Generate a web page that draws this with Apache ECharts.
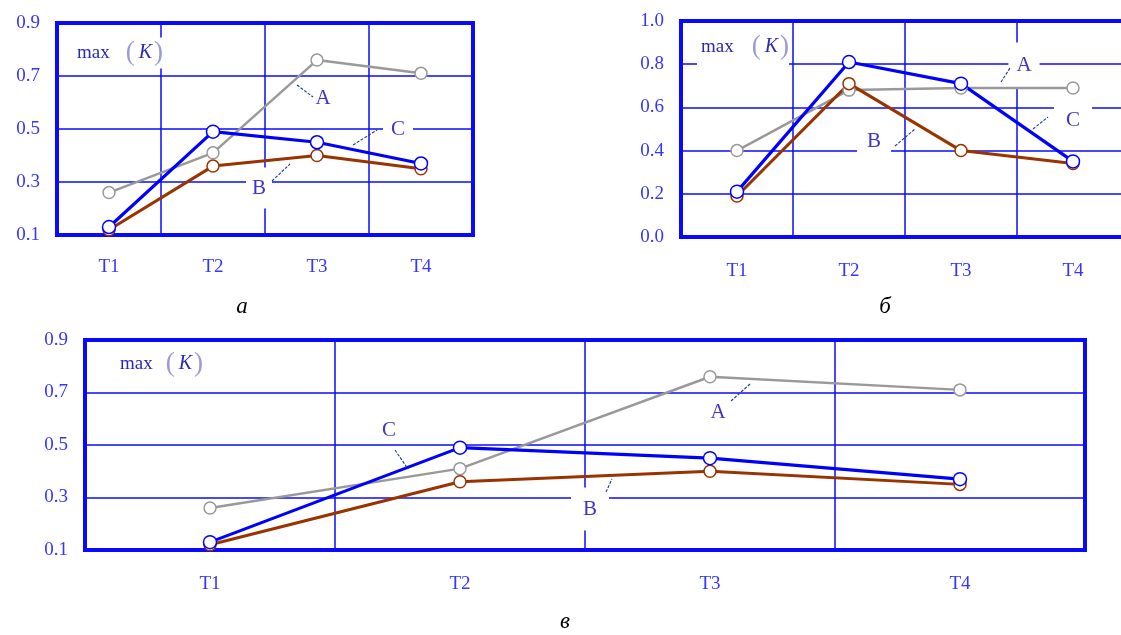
<!DOCTYPE html>
<html>
<head>
<meta charset="utf-8">
<script src="https://cdn.jsdelivr.net/npm/echarts@6/dist/echarts.min.js"></script>
<style>
html,body{margin:0;padding:0;background:#fff;}
#c{width:1121px;height:635px;}
</style>
</head>
<body>
<div id="c"></div>
<script>
// categories
const categories = ['T1', 'T2', 'T3', 'T4'];
// panel а (and в — same data)
const seriesA_a = [0.26, 0.41, 0.76, 0.71];
const seriesB_a = [0.12, 0.36, 0.40, 0.35];
const seriesC_a = [0.13, 0.49, 0.45, 0.37];
// panel б
const seriesA_b = [0.40, 0.68, 0.69, 0.69];
const seriesB_b = [0.19, 0.71, 0.40, 0.34];
const seriesC_b = [0.21, 0.81, 0.71, 0.35];
// y axis ranges
const yRangeAC = {min: 0.1, max: 0.9, interval: 0.2};
const yRangeB = {min: 0.0, max: 1.0, interval: 0.2};

const FONT = '"Liberation Serif", "Times New Roman", serif';
const TICK_COLOR = '#3535ff';
const GRID_BLUE = '#0a0aff';
const COL_A = '#999999';
const COL_B = '#993300';
const COL_C = '#0000ff';
const LBL_COLOR = '#4035c8';

function makeGrid(left, top, width, height) {
  return {left, top, width, height, show: true, borderColor: GRID_BLUE, borderWidth: 4,
    backgroundColor: 'transparent', containLabel: false, outerBoundsMode: 'none'};
}
function makeX(gi, margin) {
  return {
    type: 'category', gridIndex: gi, data: categories, boundaryGap: true,
    axisLine: {show: false}, axisTick: {show: false},
    axisLabel: {color: TICK_COLOR, fontFamily: FONT, fontSize: 19, margin: margin},
    splitLine: {show: true, lineStyle: {color: GRID_BLUE, width: 1.5}}
  };
}
function makeY(gi, r) {
  return {
    type: 'value', gridIndex: gi, min: r.min, max: r.max, interval: r.interval,
    axisLine: {show: false}, axisTick: {show: false},
    axisLabel: {color: TICK_COLOR, fontFamily: FONT, fontSize: 19, margin: 17, formatter: v => v.toFixed(1)},
    splitLine: {show: true, lineStyle: {color: GRID_BLUE, width: 1.5}}
  };
}
function makeSeries(gi, data, color, lw, sym) {
  return {
    type: 'line', xAxisIndex: gi, yAxisIndex: gi, data: data,
    symbol: 'circle', symbolSize: sym, showSymbol: true,
    lineStyle: {color: color, width: lw},
    itemStyle: {color: '#ffffff', borderColor: color, borderWidth: 1.5},
    emphasis: {disabled: true}, animation: false, z: 3
  };
}

function label(text, x, y, pad) {
  return {type: 'text', z: 1, style: {text, x, y, align: 'center', verticalAlign: 'middle',
    font: '21px ' + FONT, fill: LBL_COLOR, backgroundColor: '#ffffff', padding: pad || [5, 5]}};
}
function leader(x1, y1, x2, y2) {
  return {type: 'line', z: 4, shape: {x1, y1, x2, y2}, style: {stroke: '#1a3a99', lineWidth: 1.1, lineDash: [3, 1.5]}};
}
function maxK(x, y, gap, pad) {
  return {type: 'text', z: 1, style: {
    text: '{n|max}{s| }{p|(}{k|K}{p|)}', x, y, align: 'left', verticalAlign: 'middle',
    backgroundColor: '#ffffff', padding: pad || [2, 3],
    rich: {
      n: {font: '19px ' + FONT, fill: '#2a2ab0'},
      s: {font: '19px ' + FONT, width: gap},
      k: {font: 'italic 20px ' + FONT, fill: '#2a2ab0', padding: [0, 2, 0, 4]},
      p: {font: '27px ' + FONT, fill: '#9a9ad8'}
    }}};
}
function caption(text, x, y) {
  return {type: 'text', z: 1, style: {text, x, y, align: 'center', verticalAlign: 'middle',
    font: 'italic 23px ' + FONT, fill: '#000000'}};
}

const chart = echarts.init(document.getElementById('c'), null, {renderer: 'canvas'});
chart.setOption({
  animation: false,
  backgroundColor: '#ffffff',
  grid: [
    makeGrid(57, 23, 416, 212),
    makeGrid(681, 21, 448, 216),
    makeGrid(85, 340, 1000, 210)
  ],
  xAxis: [makeX(0, 23), makeX(1, 25), makeX(2, 25)],
  yAxis: [makeY(0, yRangeAC), makeY(1, yRangeB), makeY(2, yRangeAC)],
  series: [
    makeSeries(0, seriesA_a, COL_A, 2.5, 12),
    makeSeries(0, seriesB_a, COL_B, 3, 12),
    makeSeries(0, seriesC_a, COL_C, 3.2, 13),
    makeSeries(1, seriesA_b, COL_A, 2.5, 12),
    makeSeries(1, seriesB_b, COL_B, 3, 12),
    makeSeries(1, seriesC_b, COL_C, 3.2, 13),
    makeSeries(2, seriesA_a, COL_A, 2.5, 12),
    makeSeries(2, seriesB_a, COL_B, 3, 12),
    makeSeries(2, seriesC_a, COL_C, 3.2, 13)
  ],
  graphic: [
    // panel а
    maxK(74, 53, 16),
    label('A', 323, 98, [3, 3]),
    leader(297, 85, 313, 97),
    label('C', 398, 129, [8, 8]),
    leader(353, 145, 377, 130),
    label('B', 259, 188, [10, 6]),
    leader(272, 181, 290, 164),
    caption('а', 242, 307),
    // panel б
    maxK(697, 50, 18, [4, 0, 10, 4]),
    label('A', 1024, 65, [12, 8]),
    leader(1001, 82, 1010, 68),
    label('B', 874, 141, [6, 10]),
    leader(895, 146, 915, 129),
    label('C', 1073, 120, [10, 12]),
    leader(1033, 129, 1048, 117),
    caption('б', 885, 307),
    // panel в
    maxK(117, 364, 13),
    label('C', 389, 430, [3, 3]),
    leader(395, 450, 408, 469),
    label('A', 718, 412, [3, 3]),
    leader(731, 401, 750, 384),
    label('B', 590, 509, [11, 12]),
    leader(606, 492, 612, 479),
    caption('в', 565, 622)
  ]
});
</script>
</body>
</html>
